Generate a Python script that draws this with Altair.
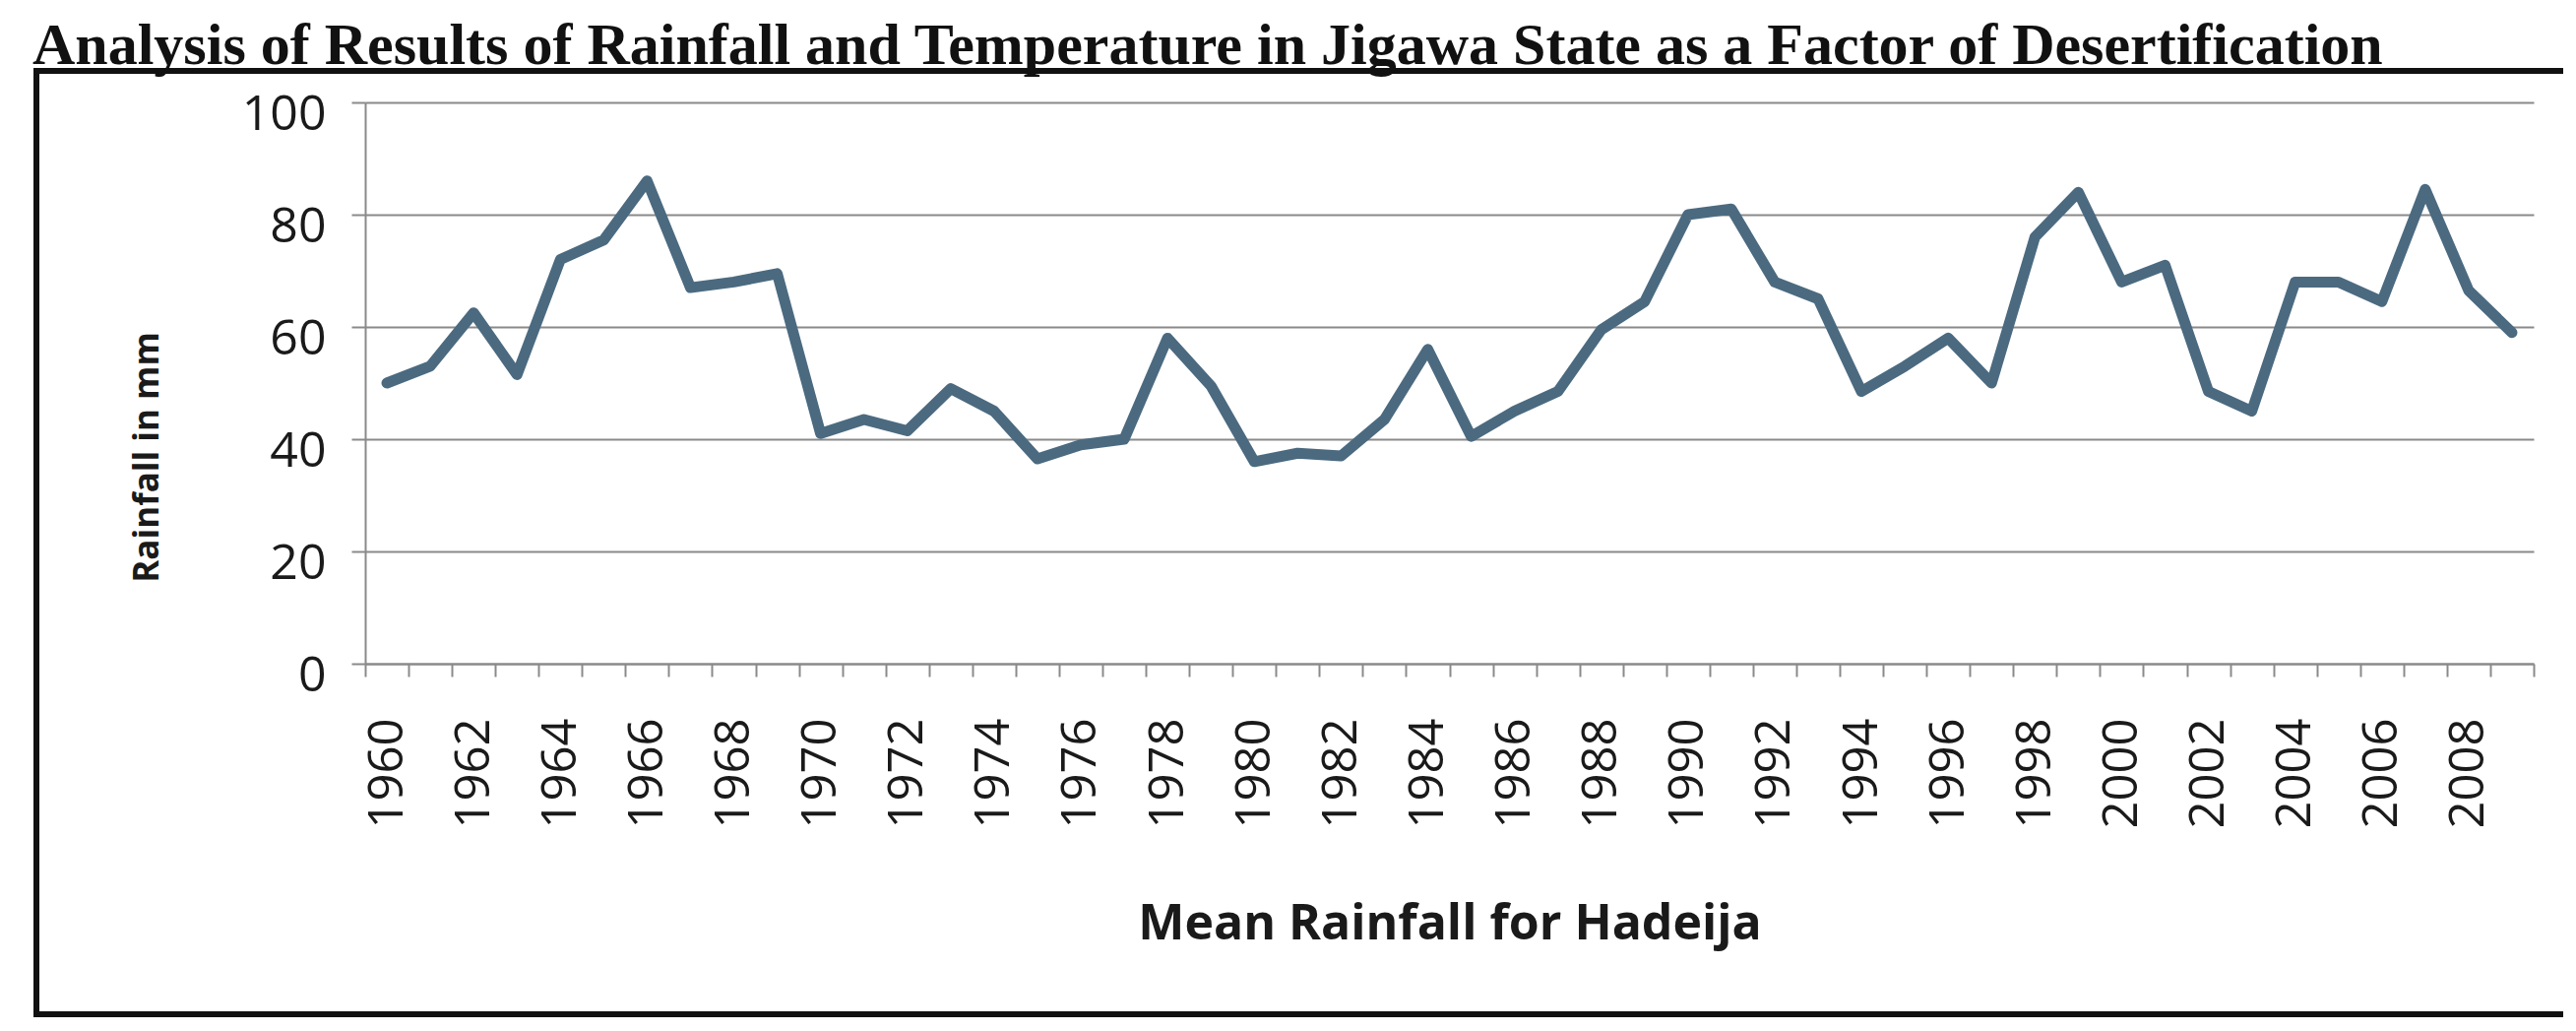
import altair as alt
import pandas as pd

# ---- data ----
years = list(range(1960, 2010))
rainfall = [
    50, 53, 62.5, 51.5, 72, 75.5, 86, 67, 68, 69.5,        # 1960-1969
    41, 43.5, 41.5, 49, 45, 36.5, 39, 40, 58, 49.5,        # 1970-1979
    36, 37.5, 37, 43.5, 56, 40.5, 45, 48.5, 59.5, 64.5,    # 1980-1989
    80, 81, 68, 65, 48.5, 53, 58, 50, 76, 84,              # 1990-1999
    68, 71, 48.5, 45, 68, 68, 64.5, 84.5, 66.5, 59,        # 2000-2009
]
y_ticks = [0, 20, 40, 60, 80, 100]
x_tick_edges = [1959.5 + i for i in range(51)]

TITLE = "Analysis of Results of Rainfall and Temperature in Jigawa State as a Factor of Desertification"
X_TITLE = "Mean Rainfall for Hadeija"
Y_TITLE = "Rainfall in mm"

df = pd.DataFrame({"year": years, "rain": rainfall})

W, H = 2203, 570
YEAR_PX = W / 50.0

line = alt.Chart(df).mark_line(
    color="#4b6a80", strokeWidth=11, strokeJoin="round", strokeCap="round"
).encode(
    x=alt.X(
        "year:Q",
        scale=alt.Scale(domain=[1959.5, 2009.5], nice=False, zero=False),
        axis=alt.Axis(
            values=x_tick_edges,
            title=X_TITLE,
            labelExpr="(datum.value + 0.5) % 2 == 0 && datum.value < 2009 ? format(datum.value + 0.5, 'd') : ''",
            labelOffset=YEAR_PX / 2,
            labelAngle=-90,
            labelFont="Open Sans",
            labelFontSize=49,
            labelColor="#1a1a1a",
            labelPadding=42,
            labelOverlap=False,
            labelFlush=False,
            labelBound=False,
            tickSize=13,
            tickColor="#8a8a8a",
            tickWidth=2,
            domainColor="#8a8a8a",
            domainWidth=2,
            grid=False,
            titleFont="Open Sans",
            titleFontSize=50,
            titleFontWeight="bold",
            titleColor="#1a1a1a",
            titlePadding=72,
        ),
    ),
    y=alt.Y(
        "rain:Q",
        scale=alt.Scale(domain=[0, 100], nice=False),
        axis=alt.Axis(
            values=y_ticks,
            title=Y_TITLE,
            grid=True,
            gridColor="#8a8a8a",
            gridWidth=2,
            domainColor="#8a8a8a",
            domainWidth=2,
            tickSize=14,
            tickColor="#8a8a8a",
            tickWidth=2,
            labelFont="Open Sans",
            labelFontSize=50,
            labelColor="#1a1a1a",
            labelPadding=26,
            labelOffset=12,
            titleFont="Open Sans",
            titleFontSize=35,
            titleFontWeight="bold",
            titleColor="#1a1a1a",
            titlePadding=78,
            titleY=360,
        ),
    ),
)

frame = alt.Chart(pd.DataFrame({"k": [0]})).mark_rect(
    fill="white", fillOpacity=0, stroke="#111111", strokeWidth=6
).encode(
    x=alt.value(-334), x2=alt.value(2400), y=alt.value(-32), y2=alt.value(926)
)

chart = alt.layer(frame, line).properties(
    width=W,
    height=H,
    padding={"left": 363, "top": 96, "right": 30, "bottom": 360},
    autosize=alt.AutoSizeParams(type="none"),
    background="white",
    title=alt.TitleParams(
        TITLE,
        anchor="start",
        frame="group",
        dx=-338,
        dy=66,
        font="Liberation Serif",
        fontSize=60,
        fontWeight="bold",
        color="#111111",
        baseline="alphabetic",
        offset=10,
    ),
).configure_view(stroke=None)

chart.save("out.html", embed_options={"renderer": "svg", "actions": False})
